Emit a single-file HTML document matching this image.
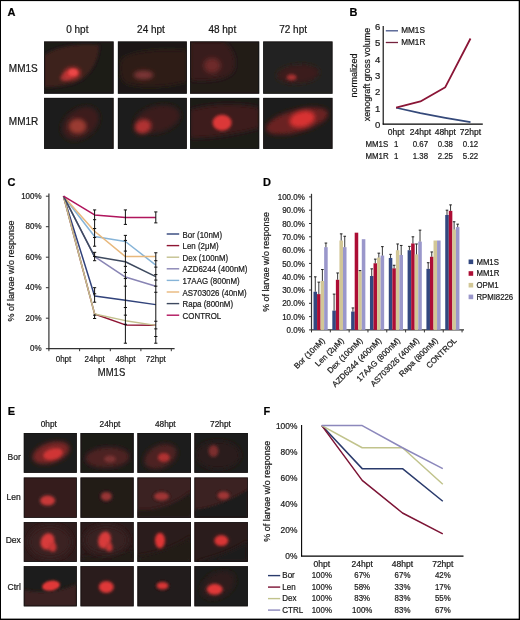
<!DOCTYPE html>
<html><head><meta charset="utf-8"><style>
html,body{margin:0;padding:0;background:#fff;}
svg{display:block;font-family:"Liberation Sans", sans-serif;}
text{stroke:#1a1a1a;stroke-width:0.22px;}
</style></head><body>
<svg width="520" height="620" viewBox="0 0 520 620">
<defs>
<filter id="g1_2" x="-50%" y="-50%" width="200%" height="200%"><feGaussianBlur stdDeviation="1.2"/></filter>
<filter id="g1_3" x="-50%" y="-50%" width="200%" height="200%"><feGaussianBlur stdDeviation="1.3"/></filter>
<filter id="g1_4" x="-50%" y="-50%" width="200%" height="200%"><feGaussianBlur stdDeviation="1.4"/></filter>
<filter id="g1_5" x="-50%" y="-50%" width="200%" height="200%"><feGaussianBlur stdDeviation="1.5"/></filter>
<filter id="g1_6" x="-50%" y="-50%" width="200%" height="200%"><feGaussianBlur stdDeviation="1.6"/></filter>
<filter id="g1_7" x="-50%" y="-50%" width="200%" height="200%"><feGaussianBlur stdDeviation="1.7"/></filter>
<filter id="g1_8" x="-50%" y="-50%" width="200%" height="200%"><feGaussianBlur stdDeviation="1.8"/></filter>
<filter id="g2_0" x="-50%" y="-50%" width="200%" height="200%"><feGaussianBlur stdDeviation="2.0"/></filter>
<filter id="g2_2" x="-50%" y="-50%" width="200%" height="200%"><feGaussianBlur stdDeviation="2.2"/></filter>
<filter id="g2_5" x="-50%" y="-50%" width="200%" height="200%"><feGaussianBlur stdDeviation="2.5"/></filter>
<filter id="g3_0" x="-50%" y="-50%" width="200%" height="200%"><feGaussianBlur stdDeviation="3"/></filter>
<filter id="soft" filterUnits="userSpaceOnUse" x="0" y="0" width="520" height="620"><feGaussianBlur stdDeviation="0.35"/></filter>
</defs>
<rect x="0" y="0" width="520" height="620" fill="#fff"/>
<g filter="url(#soft)">
<rect x="0" y="0" width="520" height="620" fill="#fff"/>
<text x="7.50" y="16.30" font-size="11" text-anchor="start" font-weight="bold" fill="#000" >A</text>
<text x="349.50" y="16.30" font-size="11" text-anchor="start" font-weight="bold" fill="#000" >B</text>
<text x="7.50" y="185.70" font-size="11" text-anchor="start" font-weight="bold" fill="#000" >C</text>
<text x="263.00" y="185.80" font-size="11" text-anchor="start" font-weight="bold" fill="#000" >D</text>
<text x="7.80" y="415.20" font-size="11" text-anchor="start" font-weight="bold" fill="#000" >E</text>
<text x="263.50" y="415.40" font-size="11" text-anchor="start" font-weight="bold" fill="#000" >F</text>
<text x="77.30" y="33.00" font-size="10" text-anchor="middle" font-weight="normal" fill="#1a1a1a" >0 hpt</text>
<text x="151.00" y="33.00" font-size="10" text-anchor="middle" font-weight="normal" fill="#1a1a1a" >24 hpt</text>
<text x="222.30" y="33.00" font-size="10" text-anchor="middle" font-weight="normal" fill="#1a1a1a" >48 hpt</text>
<text x="293.10" y="33.00" font-size="10" text-anchor="middle" font-weight="normal" fill="#1a1a1a" >72 hpt</text>
<text x="8.80" y="71.60" font-size="10" text-anchor="start" font-weight="normal" fill="#1a1a1a" >MM1S</text>
<text x="8.80" y="124.80" font-size="10" text-anchor="start" font-weight="normal" fill="#1a1a1a" >MM1R</text>
<line x1="383.20" y1="26.00" x2="383.20" y2="124.60" stroke="#000" stroke-width="1.1" />
<line x1="382.70" y1="124.10" x2="482.80" y2="124.10" stroke="#000" stroke-width="1.1" />
<text x="380.40" y="128.10" font-size="9.5" text-anchor="end" font-weight="normal" fill="#1a1a1a" >0</text>
<text x="380.40" y="111.70" font-size="9.5" text-anchor="end" font-weight="normal" fill="#1a1a1a" >1</text>
<text x="380.40" y="95.30" font-size="9.5" text-anchor="end" font-weight="normal" fill="#1a1a1a" >2</text>
<text x="380.40" y="78.90" font-size="9.5" text-anchor="end" font-weight="normal" fill="#1a1a1a" >3</text>
<text x="380.40" y="62.50" font-size="9.5" text-anchor="end" font-weight="normal" fill="#1a1a1a" >4</text>
<text x="380.40" y="46.10" font-size="9.5" text-anchor="end" font-weight="normal" fill="#1a1a1a" >5</text>
<text x="380.40" y="29.70" font-size="9.5" text-anchor="end" font-weight="normal" fill="#1a1a1a" >6</text>
<polyline points="396.10,107.70 420.40,113.11 445.30,117.87 470.50,122.13" fill="none" stroke="#34497a" stroke-width="1.6" stroke-linejoin="round" />
<polyline points="396.10,107.70 420.40,101.47 445.30,87.20 470.50,38.49" fill="none" stroke="#8a1436" stroke-width="1.8" stroke-linejoin="round" />
<line x1="385.80" y1="30.80" x2="398.00" y2="30.80" stroke="#44548a" stroke-width="1.3" />
<line x1="385.80" y1="42.50" x2="398.00" y2="42.50" stroke="#74203c" stroke-width="1.3" />
<text transform="translate(401.20,33.30) scale(0.9615,1)" font-size="8.53" text-anchor="start" font-weight="normal" fill="#1a1a1a" >MM1S</text>
<text transform="translate(401.20,45.00) scale(0.9615,1)" font-size="8.53" text-anchor="start" font-weight="normal" fill="#1a1a1a" >MM1R</text>
<text x="396.10" y="135.30" font-size="8.5" text-anchor="middle" font-weight="normal" fill="#1a1a1a" >0hpt</text>
<text x="420.40" y="135.30" font-size="8.5" text-anchor="middle" font-weight="normal" fill="#1a1a1a" >24hpt</text>
<text x="445.30" y="135.30" font-size="8.5" text-anchor="middle" font-weight="normal" fill="#1a1a1a" >48hpt</text>
<text x="470.50" y="135.30" font-size="8.5" text-anchor="middle" font-weight="normal" fill="#1a1a1a" >72hpt</text>
<text transform="translate(365.40,146.70) scale(0.8696,1)" font-size="9.08" text-anchor="start" font-weight="normal" fill="#1a1a1a" >MM1S</text>
<text transform="translate(396.10,146.70) scale(0.8696,1)" font-size="9.08" text-anchor="middle" font-weight="normal" fill="#1a1a1a" >1</text>
<text transform="translate(420.40,146.70) scale(0.8696,1)" font-size="9.08" text-anchor="middle" font-weight="normal" fill="#1a1a1a" >0.67</text>
<text transform="translate(445.30,146.70) scale(0.8696,1)" font-size="9.08" text-anchor="middle" font-weight="normal" fill="#1a1a1a" >0.38</text>
<text transform="translate(470.50,146.70) scale(0.8696,1)" font-size="9.08" text-anchor="middle" font-weight="normal" fill="#1a1a1a" >0.12</text>
<text transform="translate(365.40,158.50) scale(0.8696,1)" font-size="9.08" text-anchor="start" font-weight="normal" fill="#1a1a1a" >MM1R</text>
<text transform="translate(396.10,158.50) scale(0.8696,1)" font-size="9.08" text-anchor="middle" font-weight="normal" fill="#1a1a1a" >1</text>
<text transform="translate(420.40,158.50) scale(0.8696,1)" font-size="9.08" text-anchor="middle" font-weight="normal" fill="#1a1a1a" >1.38</text>
<text transform="translate(445.30,158.50) scale(0.8696,1)" font-size="9.08" text-anchor="middle" font-weight="normal" fill="#1a1a1a" >2.25</text>
<text transform="translate(470.50,158.50) scale(0.8696,1)" font-size="9.08" text-anchor="middle" font-weight="normal" fill="#1a1a1a" >5.22</text>
<text transform="translate(357.3,75.5) rotate(-90)" font-size="9" text-anchor="middle" fill="#1a1a1a">normalized</text>
<text transform="translate(369.7,74.5) rotate(-90)" font-size="9" text-anchor="middle" fill="#1a1a1a">xenograft gross volume</text>
<line x1="48.90" y1="193.50" x2="48.90" y2="349.20" stroke="#333" stroke-width="1.2" />
<line x1="48.40" y1="348.70" x2="174.60" y2="348.70" stroke="#333" stroke-width="1.2" />
<line x1="45.90" y1="348.70" x2="48.90" y2="348.70" stroke="#333" stroke-width="1" />
<text transform="translate(41.60,351.40) scale(0.8929,1)" font-size="8.96" text-anchor="end" font-weight="normal" fill="#1a1a1a" >0%</text>
<line x1="45.90" y1="318.20" x2="48.90" y2="318.20" stroke="#333" stroke-width="1" />
<text transform="translate(41.60,320.90) scale(0.8929,1)" font-size="8.96" text-anchor="end" font-weight="normal" fill="#1a1a1a" >20%</text>
<line x1="45.90" y1="287.70" x2="48.90" y2="287.70" stroke="#333" stroke-width="1" />
<text transform="translate(41.60,290.40) scale(0.8929,1)" font-size="8.96" text-anchor="end" font-weight="normal" fill="#1a1a1a" >40%</text>
<line x1="45.90" y1="257.20" x2="48.90" y2="257.20" stroke="#333" stroke-width="1" />
<text transform="translate(41.60,259.90) scale(0.8929,1)" font-size="8.96" text-anchor="end" font-weight="normal" fill="#1a1a1a" >60%</text>
<line x1="45.90" y1="226.70" x2="48.90" y2="226.70" stroke="#333" stroke-width="1" />
<text transform="translate(41.60,229.40) scale(0.8929,1)" font-size="8.96" text-anchor="end" font-weight="normal" fill="#1a1a1a" >80%</text>
<line x1="45.90" y1="196.20" x2="48.90" y2="196.20" stroke="#333" stroke-width="1" />
<text transform="translate(41.60,198.90) scale(0.8929,1)" font-size="8.96" text-anchor="end" font-weight="normal" fill="#1a1a1a" >100%</text>
<line x1="48.90" y1="348.70" x2="48.90" y2="351.20" stroke="#333" stroke-width="1" />
<line x1="79.60" y1="348.70" x2="79.60" y2="351.20" stroke="#333" stroke-width="1" />
<line x1="110.30" y1="348.70" x2="110.30" y2="351.20" stroke="#333" stroke-width="1" />
<line x1="140.90" y1="348.70" x2="140.90" y2="351.20" stroke="#333" stroke-width="1" />
<line x1="171.30" y1="348.70" x2="171.30" y2="351.20" stroke="#333" stroke-width="1" />
<text transform="translate(63.50,362.20) scale(0.8929,1)" font-size="8.96" text-anchor="middle" font-weight="normal" fill="#1a1a1a" >0hpt</text>
<text transform="translate(94.60,362.20) scale(0.8929,1)" font-size="8.96" text-anchor="middle" font-weight="normal" fill="#1a1a1a" >24hpt</text>
<text transform="translate(125.40,362.20) scale(0.8929,1)" font-size="8.96" text-anchor="middle" font-weight="normal" fill="#1a1a1a" >48hpt</text>
<text transform="translate(155.80,362.20) scale(0.8929,1)" font-size="8.96" text-anchor="middle" font-weight="normal" fill="#1a1a1a" >72hpt</text>
<text transform="translate(111.50,376.30) scale(0.8929,1)" font-size="10.64" text-anchor="middle" font-weight="normal" fill="#1a1a1a" >MM1S</text>
<text transform="translate(14.3,271.0) rotate(-90)" font-size="9" text-anchor="middle" fill="#1a1a1a">% of larvae w/o response</text>
<polyline points="63.50,196.20 94.60,295.94 125.40,300.20 155.80,304.63" fill="none" stroke="#30427a" stroke-width="1.5" stroke-linejoin="round" />
<polyline points="63.50,196.20 94.60,313.93 125.40,324.91 155.80,325.37" fill="none" stroke="#8e1232" stroke-width="1.5" stroke-linejoin="round" />
<polyline points="63.50,196.20 94.60,313.93 125.40,320.64 155.80,325.37" fill="none" stroke="#c3c08e" stroke-width="1.5" stroke-linejoin="round" />
<polyline points="63.50,196.20 94.60,256.59 125.40,277.02 155.80,286.18" fill="none" stroke="#8884b4" stroke-width="1.5" stroke-linejoin="round" />
<polyline points="63.50,196.20 94.60,236.46 125.40,241.49 155.80,265.13" fill="none" stroke="#86b4d8" stroke-width="1.5" stroke-linejoin="round" />
<polyline points="63.50,196.20 94.60,231.27 125.40,256.59 155.80,256.59" fill="none" stroke="#e8b87c" stroke-width="1.5" stroke-linejoin="round" />
<polyline points="63.50,196.20 94.60,256.59 125.40,261.77 155.80,276.57" fill="none" stroke="#3e4a5e" stroke-width="1.5" stroke-linejoin="round" />
<polyline points="63.50,196.20 94.60,214.96 125.40,217.40 155.80,217.40" fill="none" stroke="#b0125c" stroke-width="1.5" stroke-linejoin="round" />
<line x1="94.60" y1="209.92" x2="94.60" y2="246.22" stroke="#111" stroke-width="1" />
<line x1="94.60" y1="252.32" x2="94.60" y2="260.71" stroke="#111" stroke-width="1" />
<line x1="94.60" y1="287.70" x2="94.60" y2="302.19" stroke="#111" stroke-width="1" />
<line x1="94.60" y1="314.39" x2="94.60" y2="318.96" stroke="#111" stroke-width="1" />
<line x1="93.00" y1="209.92" x2="96.20" y2="209.92" stroke="#111" stroke-width="1" />
<line x1="93.00" y1="219.69" x2="96.20" y2="219.69" stroke="#111" stroke-width="1" />
<line x1="93.00" y1="228.53" x2="96.20" y2="228.53" stroke="#111" stroke-width="1" />
<line x1="93.00" y1="237.53" x2="96.20" y2="237.53" stroke="#111" stroke-width="1" />
<line x1="93.00" y1="246.22" x2="96.20" y2="246.22" stroke="#111" stroke-width="1" />
<line x1="93.00" y1="252.32" x2="96.20" y2="252.32" stroke="#111" stroke-width="1" />
<line x1="93.00" y1="256.44" x2="96.20" y2="256.44" stroke="#111" stroke-width="1" />
<line x1="93.00" y1="260.71" x2="96.20" y2="260.71" stroke="#111" stroke-width="1" />
<line x1="93.00" y1="287.70" x2="96.20" y2="287.70" stroke="#111" stroke-width="1" />
<line x1="93.00" y1="293.80" x2="96.20" y2="293.80" stroke="#111" stroke-width="1" />
<line x1="93.00" y1="302.19" x2="96.20" y2="302.19" stroke="#111" stroke-width="1" />
<line x1="93.00" y1="315.15" x2="96.20" y2="315.15" stroke="#111" stroke-width="1" />
<line x1="93.00" y1="318.50" x2="96.20" y2="318.50" stroke="#111" stroke-width="1" />
<line x1="125.40" y1="209.92" x2="125.40" y2="224.41" stroke="#111" stroke-width="1" />
<line x1="125.40" y1="235.39" x2="125.40" y2="343.21" stroke="#111" stroke-width="1" />
<line x1="123.80" y1="209.92" x2="127.00" y2="209.92" stroke="#111" stroke-width="1" />
<line x1="123.80" y1="224.41" x2="127.00" y2="224.41" stroke="#111" stroke-width="1" />
<line x1="123.80" y1="235.39" x2="127.00" y2="235.39" stroke="#111" stroke-width="1" />
<line x1="123.80" y1="240.43" x2="127.00" y2="240.43" stroke="#111" stroke-width="1" />
<line x1="123.80" y1="251.10" x2="127.00" y2="251.10" stroke="#111" stroke-width="1" />
<line x1="123.80" y1="266.35" x2="127.00" y2="266.35" stroke="#111" stroke-width="1" />
<line x1="123.80" y1="272.45" x2="127.00" y2="272.45" stroke="#111" stroke-width="1" />
<line x1="123.80" y1="278.55" x2="127.00" y2="278.55" stroke="#111" stroke-width="1" />
<line x1="123.80" y1="286.18" x2="127.00" y2="286.18" stroke="#111" stroke-width="1" />
<line x1="123.80" y1="307.52" x2="127.00" y2="307.52" stroke="#111" stroke-width="1" />
<line x1="123.80" y1="315.15" x2="127.00" y2="315.15" stroke="#111" stroke-width="1" />
<line x1="123.80" y1="324.30" x2="127.00" y2="324.30" stroke="#111" stroke-width="1" />
<line x1="123.80" y1="343.21" x2="127.00" y2="343.21" stroke="#111" stroke-width="1" />
<line x1="155.80" y1="211.91" x2="155.80" y2="222.89" stroke="#111" stroke-width="1" />
<line x1="155.80" y1="252.78" x2="155.80" y2="343.21" stroke="#111" stroke-width="1" />
<line x1="154.20" y1="211.91" x2="157.40" y2="211.91" stroke="#111" stroke-width="1" />
<line x1="154.20" y1="222.89" x2="157.40" y2="222.89" stroke="#111" stroke-width="1" />
<line x1="154.20" y1="252.78" x2="157.40" y2="252.78" stroke="#111" stroke-width="1" />
<line x1="154.20" y1="260.71" x2="157.40" y2="260.71" stroke="#111" stroke-width="1" />
<line x1="154.20" y1="267.11" x2="157.40" y2="267.11" stroke="#111" stroke-width="1" />
<line x1="154.20" y1="274.58" x2="157.40" y2="274.58" stroke="#111" stroke-width="1" />
<line x1="154.20" y1="280.07" x2="157.40" y2="280.07" stroke="#111" stroke-width="1" />
<line x1="154.20" y1="286.18" x2="157.40" y2="286.18" stroke="#111" stroke-width="1" />
<line x1="154.20" y1="292.27" x2="157.40" y2="292.27" stroke="#111" stroke-width="1" />
<line x1="154.20" y1="321.25" x2="157.40" y2="321.25" stroke="#111" stroke-width="1" />
<line x1="154.20" y1="328.88" x2="157.40" y2="328.88" stroke="#111" stroke-width="1" />
<line x1="154.20" y1="336.50" x2="157.40" y2="336.50" stroke="#111" stroke-width="1" />
<line x1="154.20" y1="343.21" x2="157.40" y2="343.21" stroke="#111" stroke-width="1" />
<line x1="166.70" y1="234.00" x2="179.20" y2="234.00" stroke="#30427a" stroke-width="1.4" />
<text transform="translate(182.60,237.50) scale(0.8929,1)" font-size="8.85" text-anchor="start" font-weight="normal" fill="#1a1a1a" >Bor (10nM)</text>
<line x1="166.70" y1="245.60" x2="179.20" y2="245.60" stroke="#8e1232" stroke-width="1.4" />
<text transform="translate(182.60,249.10) scale(0.8929,1)" font-size="8.85" text-anchor="start" font-weight="normal" fill="#1a1a1a" >Len (2&#956;M)</text>
<line x1="166.70" y1="257.20" x2="179.20" y2="257.20" stroke="#c3c08e" stroke-width="1.4" />
<text transform="translate(182.60,260.70) scale(0.8929,1)" font-size="8.85" text-anchor="start" font-weight="normal" fill="#1a1a1a" >Dex (100nM)</text>
<line x1="166.70" y1="268.80" x2="179.20" y2="268.80" stroke="#8884b4" stroke-width="1.4" />
<text transform="translate(182.60,272.30) scale(0.8929,1)" font-size="8.85" text-anchor="start" font-weight="normal" fill="#1a1a1a" >AZD6244 (400nM)</text>
<line x1="166.70" y1="280.40" x2="179.20" y2="280.40" stroke="#86b4d8" stroke-width="1.4" />
<text transform="translate(182.60,283.90) scale(0.8929,1)" font-size="8.85" text-anchor="start" font-weight="normal" fill="#1a1a1a" >17AAG (800nM)</text>
<line x1="166.70" y1="292.00" x2="179.20" y2="292.00" stroke="#e8b87c" stroke-width="1.4" />
<text transform="translate(182.60,295.50) scale(0.8929,1)" font-size="8.85" text-anchor="start" font-weight="normal" fill="#1a1a1a" >AS703026 (40nM)</text>
<line x1="166.70" y1="303.60" x2="179.20" y2="303.60" stroke="#3e4a5e" stroke-width="1.4" />
<text transform="translate(182.60,307.10) scale(0.8929,1)" font-size="8.85" text-anchor="start" font-weight="normal" fill="#1a1a1a" >Rapa (800nM)</text>
<line x1="166.70" y1="315.20" x2="179.20" y2="315.20" stroke="#b0125c" stroke-width="1.4" />
<text transform="translate(182.60,318.70) scale(0.8929,1)" font-size="8.85" text-anchor="start" font-weight="normal" fill="#1a1a1a" >CONTROL</text>
<line x1="311.50" y1="193.80" x2="311.50" y2="330.40" stroke="#333" stroke-width="1.2" />
<line x1="311.00" y1="329.90" x2="464.00" y2="329.90" stroke="#333" stroke-width="1.1" />
<line x1="309.00" y1="329.90" x2="311.50" y2="329.90" stroke="#333" stroke-width="1" />
<text transform="translate(304.80,333.00) scale(0.8929,1)" font-size="8.96" text-anchor="end" font-weight="normal" fill="#1a1a1a" >0.0%</text>
<line x1="309.00" y1="316.60" x2="311.50" y2="316.60" stroke="#333" stroke-width="1" />
<text transform="translate(304.80,319.70) scale(0.8929,1)" font-size="8.96" text-anchor="end" font-weight="normal" fill="#1a1a1a" >10.0%</text>
<line x1="309.00" y1="303.30" x2="311.50" y2="303.30" stroke="#333" stroke-width="1" />
<text transform="translate(304.80,306.40) scale(0.8929,1)" font-size="8.96" text-anchor="end" font-weight="normal" fill="#1a1a1a" >20.0%</text>
<line x1="309.00" y1="290.00" x2="311.50" y2="290.00" stroke="#333" stroke-width="1" />
<text transform="translate(304.80,293.10) scale(0.8929,1)" font-size="8.96" text-anchor="end" font-weight="normal" fill="#1a1a1a" >30.0%</text>
<line x1="309.00" y1="276.70" x2="311.50" y2="276.70" stroke="#333" stroke-width="1" />
<text transform="translate(304.80,279.80) scale(0.8929,1)" font-size="8.96" text-anchor="end" font-weight="normal" fill="#1a1a1a" >40.0%</text>
<line x1="309.00" y1="263.40" x2="311.50" y2="263.40" stroke="#333" stroke-width="1" />
<text transform="translate(304.80,266.50) scale(0.8929,1)" font-size="8.96" text-anchor="end" font-weight="normal" fill="#1a1a1a" >50.0%</text>
<line x1="309.00" y1="250.10" x2="311.50" y2="250.10" stroke="#333" stroke-width="1" />
<text transform="translate(304.80,253.20) scale(0.8929,1)" font-size="8.96" text-anchor="end" font-weight="normal" fill="#1a1a1a" >60.0%</text>
<line x1="309.00" y1="236.80" x2="311.50" y2="236.80" stroke="#333" stroke-width="1" />
<text transform="translate(304.80,239.90) scale(0.8929,1)" font-size="8.96" text-anchor="end" font-weight="normal" fill="#1a1a1a" >70.0%</text>
<line x1="309.00" y1="223.50" x2="311.50" y2="223.50" stroke="#333" stroke-width="1" />
<text transform="translate(304.80,226.60) scale(0.8929,1)" font-size="8.96" text-anchor="end" font-weight="normal" fill="#1a1a1a" >80.0%</text>
<line x1="309.00" y1="210.20" x2="311.50" y2="210.20" stroke="#333" stroke-width="1" />
<text transform="translate(304.80,213.30) scale(0.8929,1)" font-size="8.96" text-anchor="end" font-weight="normal" fill="#1a1a1a" >90.0%</text>
<line x1="309.00" y1="196.90" x2="311.50" y2="196.90" stroke="#333" stroke-width="1" />
<text transform="translate(304.80,200.00) scale(0.8929,1)" font-size="8.96" text-anchor="end" font-weight="normal" fill="#1a1a1a" >100.0%</text>
<line x1="311.50" y1="329.90" x2="311.50" y2="332.40" stroke="#333" stroke-width="1" />
<line x1="330.32" y1="329.90" x2="330.32" y2="332.40" stroke="#333" stroke-width="1" />
<line x1="349.14" y1="329.90" x2="349.14" y2="332.40" stroke="#333" stroke-width="1" />
<line x1="367.96" y1="329.90" x2="367.96" y2="332.40" stroke="#333" stroke-width="1" />
<line x1="386.78" y1="329.90" x2="386.78" y2="332.40" stroke="#333" stroke-width="1" />
<line x1="405.60" y1="329.90" x2="405.60" y2="332.40" stroke="#333" stroke-width="1" />
<line x1="424.42" y1="329.90" x2="424.42" y2="332.40" stroke="#333" stroke-width="1" />
<line x1="443.24" y1="329.90" x2="443.24" y2="332.40" stroke="#333" stroke-width="1" />
<line x1="462.06" y1="329.90" x2="462.06" y2="332.40" stroke="#333" stroke-width="1" />
<rect x="313.50" y="291.73" width="3.55" height="38.17" fill="#31477f" />
<rect x="317.05" y="294.12" width="3.55" height="35.78" fill="#ac1034" />
<rect x="320.60" y="280.96" width="3.55" height="48.94" fill="#d2c796" />
<rect x="324.15" y="247.17" width="3.55" height="82.73" fill="#9a97cb" />
<line x1="315.27" y1="276.83" x2="315.27" y2="291.73" stroke="#222" stroke-width="0.9" />
<line x1="313.97" y1="276.83" x2="316.57" y2="276.83" stroke="#222" stroke-width="1" />
<line x1="318.82" y1="282.15" x2="318.82" y2="294.12" stroke="#222" stroke-width="0.9" />
<line x1="317.52" y1="282.15" x2="320.12" y2="282.15" stroke="#222" stroke-width="1" />
<line x1="322.38" y1="269.52" x2="322.38" y2="280.96" stroke="#222" stroke-width="0.9" />
<line x1="321.07" y1="269.52" x2="323.68" y2="269.52" stroke="#222" stroke-width="1" />
<line x1="325.92" y1="243.05" x2="325.92" y2="247.17" stroke="#222" stroke-width="0.9" />
<line x1="324.62" y1="243.05" x2="327.22" y2="243.05" stroke="#222" stroke-width="1" />
<rect x="332.32" y="310.61" width="3.55" height="19.29" fill="#31477f" />
<rect x="335.87" y="279.76" width="3.55" height="50.14" fill="#ac1034" />
<rect x="339.42" y="240.52" width="3.55" height="89.38" fill="#d2c796" />
<rect x="342.97" y="247.17" width="3.55" height="82.73" fill="#9a97cb" />
<line x1="334.09" y1="294.12" x2="334.09" y2="310.61" stroke="#222" stroke-width="0.9" />
<line x1="332.79" y1="294.12" x2="335.39" y2="294.12" stroke="#222" stroke-width="1" />
<line x1="337.64" y1="272.98" x2="337.64" y2="279.76" stroke="#222" stroke-width="0.9" />
<line x1="336.34" y1="272.98" x2="338.94" y2="272.98" stroke="#222" stroke-width="1" />
<line x1="341.19" y1="233.87" x2="341.19" y2="240.52" stroke="#222" stroke-width="0.9" />
<line x1="339.89" y1="233.87" x2="342.50" y2="233.87" stroke="#222" stroke-width="1" />
<line x1="344.74" y1="236.27" x2="344.74" y2="247.17" stroke="#222" stroke-width="0.9" />
<line x1="343.44" y1="236.27" x2="346.04" y2="236.27" stroke="#222" stroke-width="1" />
<rect x="351.14" y="311.55" width="3.55" height="18.35" fill="#31477f" />
<rect x="354.69" y="232.68" width="3.55" height="97.22" fill="#ac1034" />
<rect x="358.24" y="271.25" width="3.55" height="58.65" fill="#d2c796" />
<rect x="361.79" y="239.19" width="3.55" height="90.71" fill="#9a97cb" />
<line x1="352.91" y1="307.95" x2="352.91" y2="311.55" stroke="#222" stroke-width="0.9" />
<line x1="351.61" y1="307.95" x2="354.21" y2="307.95" stroke="#222" stroke-width="1" />
<line x1="360.01" y1="270.58" x2="360.01" y2="271.25" stroke="#222" stroke-width="0.9" />
<line x1="358.71" y1="270.58" x2="361.31" y2="270.58" stroke="#222" stroke-width="1" />
<rect x="369.96" y="276.03" width="3.55" height="53.87" fill="#31477f" />
<rect x="373.51" y="263.27" width="3.55" height="66.63" fill="#ac1034" />
<rect x="377.06" y="257.55" width="3.55" height="72.35" fill="#d2c796" />
<rect x="380.61" y="255.55" width="3.55" height="74.35" fill="#9a97cb" />
<line x1="371.73" y1="268.85" x2="371.73" y2="276.03" stroke="#222" stroke-width="0.9" />
<line x1="370.43" y1="268.85" x2="373.03" y2="268.85" stroke="#222" stroke-width="1" />
<line x1="375.28" y1="259.14" x2="375.28" y2="263.27" stroke="#222" stroke-width="0.9" />
<line x1="373.98" y1="259.14" x2="376.58" y2="259.14" stroke="#222" stroke-width="1" />
<line x1="378.83" y1="253.16" x2="378.83" y2="257.55" stroke="#222" stroke-width="0.9" />
<line x1="377.53" y1="253.16" x2="380.13" y2="253.16" stroke="#222" stroke-width="1" />
<line x1="382.38" y1="246.64" x2="382.38" y2="255.55" stroke="#222" stroke-width="0.9" />
<line x1="381.08" y1="246.64" x2="383.68" y2="246.64" stroke="#222" stroke-width="1" />
<rect x="388.78" y="257.95" width="3.55" height="71.95" fill="#31477f" />
<rect x="392.33" y="268.32" width="3.55" height="61.58" fill="#ac1034" />
<rect x="395.88" y="250.23" width="3.55" height="79.67" fill="#d2c796" />
<rect x="399.43" y="255.02" width="3.55" height="74.88" fill="#9a97cb" />
<line x1="390.55" y1="254.36" x2="390.55" y2="257.95" stroke="#222" stroke-width="0.9" />
<line x1="389.25" y1="254.36" x2="391.85" y2="254.36" stroke="#222" stroke-width="1" />
<line x1="394.10" y1="265.26" x2="394.10" y2="268.32" stroke="#222" stroke-width="0.9" />
<line x1="392.80" y1="265.26" x2="395.40" y2="265.26" stroke="#222" stroke-width="1" />
<line x1="397.65" y1="243.98" x2="397.65" y2="250.23" stroke="#222" stroke-width="0.9" />
<line x1="396.35" y1="243.98" x2="398.95" y2="243.98" stroke="#222" stroke-width="1" />
<line x1="401.20" y1="245.44" x2="401.20" y2="255.02" stroke="#222" stroke-width="0.9" />
<line x1="399.90" y1="245.44" x2="402.50" y2="245.44" stroke="#222" stroke-width="1" />
<rect x="407.60" y="250.23" width="3.55" height="79.67" fill="#31477f" />
<rect x="411.15" y="243.45" width="3.55" height="86.45" fill="#ac1034" />
<rect x="414.70" y="254.36" width="3.55" height="75.54" fill="#d2c796" />
<rect x="418.25" y="241.59" width="3.55" height="88.31" fill="#9a97cb" />
<line x1="409.38" y1="246.38" x2="409.38" y2="250.23" stroke="#222" stroke-width="0.9" />
<line x1="408.07" y1="246.38" x2="410.68" y2="246.38" stroke="#222" stroke-width="1" />
<line x1="412.93" y1="236.80" x2="412.93" y2="243.45" stroke="#222" stroke-width="0.9" />
<line x1="411.62" y1="236.80" x2="414.23" y2="236.80" stroke="#222" stroke-width="1" />
<line x1="416.48" y1="243.98" x2="416.48" y2="254.36" stroke="#222" stroke-width="0.9" />
<line x1="415.18" y1="243.98" x2="417.78" y2="243.98" stroke="#222" stroke-width="1" />
<line x1="420.02" y1="230.15" x2="420.02" y2="241.59" stroke="#222" stroke-width="0.9" />
<line x1="418.72" y1="230.15" x2="421.32" y2="230.15" stroke="#222" stroke-width="1" />
<rect x="426.42" y="268.85" width="3.55" height="61.05" fill="#31477f" />
<rect x="429.97" y="256.75" width="3.55" height="73.15" fill="#ac1034" />
<rect x="433.52" y="240.52" width="3.55" height="89.38" fill="#d2c796" />
<rect x="437.07" y="240.52" width="3.55" height="89.38" fill="#9a97cb" />
<line x1="428.19" y1="262.73" x2="428.19" y2="268.85" stroke="#222" stroke-width="0.9" />
<line x1="426.89" y1="262.73" x2="429.50" y2="262.73" stroke="#222" stroke-width="1" />
<line x1="431.75" y1="251.96" x2="431.75" y2="256.75" stroke="#222" stroke-width="0.9" />
<line x1="430.44" y1="251.96" x2="433.05" y2="251.96" stroke="#222" stroke-width="1" />
<rect x="445.24" y="214.99" width="3.55" height="114.91" fill="#31477f" />
<rect x="448.79" y="210.86" width="3.55" height="119.04" fill="#ac1034" />
<rect x="452.34" y="229.48" width="3.55" height="100.42" fill="#d2c796" />
<rect x="455.89" y="227.09" width="3.55" height="102.81" fill="#9a97cb" />
<line x1="447.01" y1="210.20" x2="447.01" y2="214.99" stroke="#222" stroke-width="0.9" />
<line x1="445.71" y1="210.20" x2="448.31" y2="210.20" stroke="#222" stroke-width="1" />
<line x1="450.56" y1="204.88" x2="450.56" y2="210.86" stroke="#222" stroke-width="0.9" />
<line x1="449.26" y1="204.88" x2="451.87" y2="204.88" stroke="#222" stroke-width="1" />
<line x1="454.12" y1="221.77" x2="454.12" y2="229.48" stroke="#222" stroke-width="0.9" />
<line x1="452.81" y1="221.77" x2="455.42" y2="221.77" stroke="#222" stroke-width="1" />
<line x1="457.66" y1="224.16" x2="457.66" y2="227.09" stroke="#222" stroke-width="0.9" />
<line x1="456.36" y1="224.16" x2="458.96" y2="224.16" stroke="#222" stroke-width="1" />
<text transform="translate(321.91,337.50) rotate(-45)" font-size="8" text-anchor="end" fill="#1a1a1a" dy="5">Bor (10nM)</text>
<text transform="translate(340.73,337.50) rotate(-45)" font-size="8" text-anchor="end" fill="#1a1a1a" dy="5">Len (2&#956;M)</text>
<text transform="translate(359.55,337.50) rotate(-45)" font-size="8" text-anchor="end" fill="#1a1a1a" dy="5">Dex (100nM)</text>
<text transform="translate(378.37,337.50) rotate(-45)" font-size="8" text-anchor="end" fill="#1a1a1a" dy="5">AZD6244 (400nM)</text>
<text transform="translate(397.19,337.50) rotate(-45)" font-size="8" text-anchor="end" fill="#1a1a1a" dy="5">17AAG (800nM)</text>
<text transform="translate(416.01,337.50) rotate(-45)" font-size="8" text-anchor="end" fill="#1a1a1a" dy="5">AS703026 (40nM)</text>
<text transform="translate(434.83,337.50) rotate(-45)" font-size="8" text-anchor="end" fill="#1a1a1a" dy="5">Rapa (800nM)</text>
<text transform="translate(453.65,337.50) rotate(-45)" font-size="8" text-anchor="end" fill="#1a1a1a" dy="5">CONTROL</text>
<rect x="468.60" y="259.50" width="4.60" height="4.60" fill="#31477f" />
<text transform="translate(476.40,264.70) scale(0.8929,1)" font-size="8.74" text-anchor="start" font-weight="normal" fill="#1a1a1a" >MM1S</text>
<rect x="468.60" y="271.20" width="4.60" height="4.60" fill="#ac1034" />
<text transform="translate(476.40,276.40) scale(0.8929,1)" font-size="8.74" text-anchor="start" font-weight="normal" fill="#1a1a1a" >MM1R</text>
<rect x="468.60" y="282.90" width="4.60" height="4.60" fill="#d2c796" />
<text transform="translate(476.40,288.10) scale(0.8929,1)" font-size="8.74" text-anchor="start" font-weight="normal" fill="#1a1a1a" >OPM1</text>
<rect x="468.60" y="294.60" width="4.60" height="4.60" fill="#9a97cb" />
<text transform="translate(476.40,299.80) scale(0.8929,1)" font-size="8.74" text-anchor="start" font-weight="normal" fill="#1a1a1a" >RPMI8226</text>
<text transform="translate(268.8,262.0) rotate(-90)" font-size="8.9" text-anchor="middle" fill="#1a1a1a">% of larvae w/o response</text>
<text x="48.80" y="427.20" font-size="8.3" text-anchor="middle" font-weight="normal" fill="#1a1a1a" >0hpt</text>
<text x="110.00" y="427.20" font-size="8.3" text-anchor="middle" font-weight="normal" fill="#1a1a1a" >24hpt</text>
<text x="165.30" y="427.20" font-size="8.3" text-anchor="middle" font-weight="normal" fill="#1a1a1a" >48hpt</text>
<text x="220.50" y="427.20" font-size="8.3" text-anchor="middle" font-weight="normal" fill="#1a1a1a" >72hpt</text>
<text x="20.80" y="459.50" font-size="8.5" text-anchor="end" font-weight="normal" fill="#1a1a1a" >Bor</text>
<text x="20.80" y="499.70" font-size="8.5" text-anchor="end" font-weight="normal" fill="#1a1a1a" >Len</text>
<text x="20.80" y="543.40" font-size="8.5" text-anchor="end" font-weight="normal" fill="#1a1a1a" >Dex</text>
<text x="20.80" y="589.70" font-size="8.5" text-anchor="end" font-weight="normal" fill="#1a1a1a" >Ctrl</text>
<line x1="301.60" y1="425.00" x2="301.60" y2="556.50" stroke="#000" stroke-width="1.1" />
<line x1="301.10" y1="556.20" x2="463.50" y2="556.20" stroke="#000" stroke-width="1.2" />
<text transform="translate(297.40,558.90) scale(0.9375,1)" font-size="8.96" text-anchor="end" font-weight="normal" fill="#1a1a1a" >0%</text>
<text transform="translate(297.40,532.82) scale(0.9375,1)" font-size="8.96" text-anchor="end" font-weight="normal" fill="#1a1a1a" >20%</text>
<text transform="translate(297.40,506.74) scale(0.9375,1)" font-size="8.96" text-anchor="end" font-weight="normal" fill="#1a1a1a" >40%</text>
<text transform="translate(297.40,480.66) scale(0.9375,1)" font-size="8.96" text-anchor="end" font-weight="normal" fill="#1a1a1a" >60%</text>
<text transform="translate(297.40,454.58) scale(0.9375,1)" font-size="8.96" text-anchor="end" font-weight="normal" fill="#1a1a1a" >80%</text>
<text transform="translate(297.40,428.50) scale(0.9375,1)" font-size="8.96" text-anchor="end" font-weight="normal" fill="#1a1a1a" >100%</text>
<polyline points="321.80,425.60 362.20,468.63 402.50,468.63 442.80,501.23" fill="none" stroke="#2a3a6c" stroke-width="1.5" stroke-linejoin="round" />
<polyline points="321.80,425.60 362.20,480.37 402.50,512.97 442.80,533.83" fill="none" stroke="#7c1234" stroke-width="1.5" stroke-linejoin="round" />
<polyline points="321.80,425.60 362.20,447.77 402.50,447.77 442.80,484.28" fill="none" stroke="#c1c38c" stroke-width="1.5" stroke-linejoin="round" />
<polyline points="321.80,425.60 362.20,425.60 402.50,447.77 442.80,468.63" fill="none" stroke="#8c88bc" stroke-width="1.5" stroke-linejoin="round" />
<text x="321.80" y="566.50" font-size="8.5" text-anchor="middle" font-weight="normal" fill="#1a1a1a" >0hpt</text>
<text x="362.20" y="566.50" font-size="8.5" text-anchor="middle" font-weight="normal" fill="#1a1a1a" >24hpt</text>
<text x="402.50" y="566.50" font-size="8.5" text-anchor="middle" font-weight="normal" fill="#1a1a1a" >48hpt</text>
<text x="442.80" y="566.50" font-size="8.5" text-anchor="middle" font-weight="normal" fill="#1a1a1a" >72hpt</text>
<line x1="268.00" y1="575.60" x2="280.20" y2="575.60" stroke="#2a3a6c" stroke-width="1.4" />
<text transform="translate(282.30,578.30) scale(0.8929,1)" font-size="8.96" text-anchor="start" font-weight="normal" fill="#1a1a1a" >Bor</text>
<text transform="translate(321.80,578.30) scale(0.8929,1)" font-size="8.85" text-anchor="middle" font-weight="normal" fill="#1a1a1a" >100%</text>
<text transform="translate(362.20,578.30) scale(0.8929,1)" font-size="8.85" text-anchor="middle" font-weight="normal" fill="#1a1a1a" >67%</text>
<text transform="translate(402.50,578.30) scale(0.8929,1)" font-size="8.85" text-anchor="middle" font-weight="normal" fill="#1a1a1a" >67%</text>
<text transform="translate(442.80,578.30) scale(0.8929,1)" font-size="8.85" text-anchor="middle" font-weight="normal" fill="#1a1a1a" >42%</text>
<line x1="268.00" y1="587.10" x2="280.20" y2="587.10" stroke="#7c1234" stroke-width="1.4" />
<text transform="translate(282.30,589.80) scale(0.8929,1)" font-size="8.96" text-anchor="start" font-weight="normal" fill="#1a1a1a" >Len</text>
<text transform="translate(321.80,589.80) scale(0.8929,1)" font-size="8.85" text-anchor="middle" font-weight="normal" fill="#1a1a1a" >100%</text>
<text transform="translate(362.20,589.80) scale(0.8929,1)" font-size="8.85" text-anchor="middle" font-weight="normal" fill="#1a1a1a" >58%</text>
<text transform="translate(402.50,589.80) scale(0.8929,1)" font-size="8.85" text-anchor="middle" font-weight="normal" fill="#1a1a1a" >33%</text>
<text transform="translate(442.80,589.80) scale(0.8929,1)" font-size="8.85" text-anchor="middle" font-weight="normal" fill="#1a1a1a" >17%</text>
<line x1="268.00" y1="598.60" x2="280.20" y2="598.60" stroke="#c1c38c" stroke-width="1.4" />
<text transform="translate(282.30,601.30) scale(0.8929,1)" font-size="8.96" text-anchor="start" font-weight="normal" fill="#1a1a1a" >Dex</text>
<text transform="translate(321.80,601.30) scale(0.8929,1)" font-size="8.85" text-anchor="middle" font-weight="normal" fill="#1a1a1a" >100%</text>
<text transform="translate(362.20,601.30) scale(0.8929,1)" font-size="8.85" text-anchor="middle" font-weight="normal" fill="#1a1a1a" >83%</text>
<text transform="translate(402.50,601.30) scale(0.8929,1)" font-size="8.85" text-anchor="middle" font-weight="normal" fill="#1a1a1a" >83%</text>
<text transform="translate(442.80,601.30) scale(0.8929,1)" font-size="8.85" text-anchor="middle" font-weight="normal" fill="#1a1a1a" >55%</text>
<line x1="268.00" y1="610.10" x2="280.20" y2="610.10" stroke="#8c88bc" stroke-width="1.4" />
<text transform="translate(282.30,612.80) scale(0.8929,1)" font-size="8.96" text-anchor="start" font-weight="normal" fill="#1a1a1a" >CTRL</text>
<text transform="translate(321.80,612.80) scale(0.8929,1)" font-size="8.85" text-anchor="middle" font-weight="normal" fill="#1a1a1a" >100%</text>
<text transform="translate(362.20,612.80) scale(0.8929,1)" font-size="8.85" text-anchor="middle" font-weight="normal" fill="#1a1a1a" >100%</text>
<text transform="translate(402.50,612.80) scale(0.8929,1)" font-size="8.85" text-anchor="middle" font-weight="normal" fill="#1a1a1a" >83%</text>
<text transform="translate(442.80,612.80) scale(0.8929,1)" font-size="8.85" text-anchor="middle" font-weight="normal" fill="#1a1a1a" >67%</text>
<text transform="translate(270.4,491.2) rotate(-90)" font-size="9" text-anchor="middle" fill="#1a1a1a">% of larvae w/o response</text>
<clipPath id="cA1"><rect x="44.10" y="41.50" width="69.50" height="52.20"/></clipPath>
<rect x="44.10" y="41.50" width="69.50" height="52.20" fill="#1d1a18"/>
<g clip-path="url(#cA1)">
<path d="M44,56 C55,47 75,43 99,45 C99,59 92,72 81,80 C69,86 55,87 44,87 Z" fill="#3e201e" opacity="1" filter="url(#g1_5)"/>
<ellipse cx="66" cy="77" rx="6" ry="4" transform="rotate(-20 66 77)" fill="#9a3030" opacity="1" filter="url(#g1_8)"/>
<ellipse cx="72" cy="73.5" rx="8.5" ry="6" transform="rotate(-10 72 73.5)" fill="#c83434" opacity="1" filter="url(#g2_0)"/>
<ellipse cx="73" cy="72.5" rx="4.5" ry="3.5" transform="rotate(0 73 72.5)" fill="#f04848" opacity="0.9" filter="url(#g1_3)"/>
</g>
<rect x="44.50" y="41.90" width="68.70" height="51.40" fill="none" stroke="#121010" stroke-width="0.8" opacity="0.8"/>
<clipPath id="cA2"><rect x="117.90" y="41.50" width="68.90" height="52.20"/></clipPath>
<rect x="117.90" y="41.50" width="68.90" height="52.20" fill="#1c1917"/>
<g clip-path="url(#cA2)">
<path d="M122,58 C135,50 160,48 187,50 L187,82 C170,87 140,90 124,83 C119,76 118,65 122,58 Z" fill="#2e1a19" opacity="1" filter="url(#g2_0)"/>
<ellipse cx="143.5" cy="75" rx="10" ry="4.5" transform="rotate(0 143.5 75)" fill="#7a3434" opacity="1" filter="url(#g2_2)"/>
</g>
<rect x="118.30" y="41.90" width="68.10" height="51.40" fill="none" stroke="#121010" stroke-width="0.8" opacity="0.8"/>
<clipPath id="cA3"><rect x="190.10" y="41.50" width="69.10" height="52.20"/></clipPath>
<rect x="190.10" y="41.50" width="69.10" height="52.20" fill="#221b18"/>
<g clip-path="url(#cA3)">
<path d="M190.1,41.5 L224,41.5 C234,50 238,62 233,72 C226,80 206,82 190.1,80 Z" fill="#381c1b" opacity="1" filter="url(#g2_2)"/>
<ellipse cx="212.2" cy="65.6" rx="8.5" ry="7.5" transform="rotate(0 212.2 65.6)" fill="#6e2c2c" opacity="1" filter="url(#g2_5)"/>
</g>
<rect x="190.50" y="41.90" width="68.30" height="51.40" fill="none" stroke="#121010" stroke-width="0.8" opacity="0.8"/>
<clipPath id="cA4"><rect x="263.20" y="41.50" width="69.30" height="52.20"/></clipPath>
<rect x="263.20" y="41.50" width="69.30" height="52.20" fill="#242321"/>
<g clip-path="url(#cA4)">
<ellipse cx="298" cy="74.1" rx="21" ry="9" transform="rotate(-5 298 74.1)" fill="#3a1b1b" opacity="1" filter="url(#g2_0)"/>
<ellipse cx="291.6" cy="77.3" rx="5" ry="3" transform="rotate(0 291.6 77.3)" fill="#a83232" opacity="1" filter="url(#g1_5)"/>
</g>
<rect x="263.60" y="41.90" width="68.50" height="51.40" fill="none" stroke="#121010" stroke-width="0.8" opacity="0.8"/>
<clipPath id="cA5"><rect x="44.10" y="97.90" width="69.50" height="51.00"/></clipPath>
<rect x="44.10" y="97.90" width="69.50" height="51.00" fill="#1e1c1a"/>
<g clip-path="url(#cA5)">
<ellipse cx="80.4" cy="123.4" rx="20" ry="14" transform="rotate(-35 80.4 123.4)" fill="#3c1f1d" opacity="1" filter="url(#g2_0)"/>
<ellipse cx="77.6" cy="126.3" rx="9" ry="7.5" transform="rotate(0 77.6 126.3)" fill="#9a3a30" opacity="1" filter="url(#g2_2)"/>
</g>
<rect x="44.50" y="98.30" width="68.70" height="50.20" fill="none" stroke="#121010" stroke-width="0.8" opacity="0.8"/>
<clipPath id="cA6"><rect x="117.90" y="97.90" width="68.90" height="51.00"/></clipPath>
<rect x="117.90" y="97.90" width="68.90" height="51.00" fill="#1e1c1a"/>
<g clip-path="url(#cA6)">
<ellipse cx="157.3" cy="119.2" rx="23" ry="13" transform="rotate(-15 157.3 119.2)" fill="#3a1c1c" opacity="1" filter="url(#g2_0)"/>
<ellipse cx="143" cy="126.5" rx="8.5" ry="7" transform="rotate(-20 143 126.5)" fill="#b03232" opacity="1" filter="url(#g2_2)"/>
</g>
<rect x="118.30" y="98.30" width="68.10" height="50.20" fill="none" stroke="#121010" stroke-width="0.8" opacity="0.8"/>
<clipPath id="cA7"><rect x="190.10" y="97.90" width="69.10" height="51.00"/></clipPath>
<rect x="190.10" y="97.90" width="69.10" height="51.00" fill="#1e1b19"/>
<g clip-path="url(#cA7)">
<path d="M190,110 C210,104 240,103 259.2,108 L259.2,128 C240,133 215,138 190,138 Z" fill="#3e1e1c" opacity="1" filter="url(#g2_0)"/>
<ellipse cx="222.1" cy="122.7" rx="9.5" ry="8" transform="rotate(0 222.1 122.7)" fill="#dc3838" opacity="1" filter="url(#g1_8)"/>
</g>
<rect x="190.50" y="98.30" width="68.30" height="50.20" fill="none" stroke="#121010" stroke-width="0.8" opacity="0.8"/>
<clipPath id="cA8"><rect x="263.20" y="97.90" width="69.30" height="51.00"/></clipPath>
<rect x="263.20" y="97.90" width="69.30" height="51.00" fill="#1e1c1a"/>
<g clip-path="url(#cA8)">
<ellipse cx="297" cy="121" rx="32" ry="11" transform="rotate(-15 297 121)" fill="#6a2020" opacity="1" filter="url(#g2_0)"/>
<ellipse cx="302.3" cy="119.2" rx="13" ry="8" transform="rotate(-15 302.3 119.2)" fill="#d83030" opacity="1" filter="url(#g2_0)"/>
</g>
<rect x="263.60" y="98.30" width="68.50" height="50.20" fill="none" stroke="#121010" stroke-width="0.8" opacity="0.8"/>
<clipPath id="cE1"><rect x="23.80" y="433.00" width="53.00" height="39.80"/></clipPath>
<rect x="23.80" y="433.00" width="53.00" height="39.80" fill="#1e1c1a"/>
<g clip-path="url(#cE1)">
<ellipse cx="51" cy="452.8" rx="19" ry="10" transform="rotate(-18 51 452.8)" fill="#7a2828" opacity="1" filter="url(#g2_2)"/>
<ellipse cx="53" cy="454" rx="10" ry="5.5" transform="rotate(-15 53 454)" fill="#d03636" opacity="1" filter="url(#g1_8)"/>
</g>
<rect x="24.20" y="433.40" width="52.20" height="39.00" fill="none" stroke="#121010" stroke-width="0.8" opacity="0.8"/>
<clipPath id="cE2"><rect x="80.50" y="433.00" width="53.20" height="39.80"/></clipPath>
<rect x="80.50" y="433.00" width="53.20" height="39.80" fill="#1e1b19"/>
<g clip-path="url(#cE2)">
<ellipse cx="107.4" cy="457.6" rx="22" ry="10" transform="rotate(-3 107.4 457.6)" fill="#4e2424" opacity="1" filter="url(#g2_2)"/>
<ellipse cx="110" cy="459" rx="6" ry="3.5" transform="rotate(0 110 459)" fill="#7a3232" opacity="1" filter="url(#g1_5)"/>
</g>
<rect x="80.90" y="433.40" width="52.40" height="39.00" fill="none" stroke="#121010" stroke-width="0.8" opacity="0.8"/>
<clipPath id="cE3"><rect x="137.40" y="433.00" width="53.60" height="39.80"/></clipPath>
<rect x="137.40" y="433.00" width="53.60" height="39.80" fill="#1e1c1a"/>
<g clip-path="url(#cE3)">
<ellipse cx="160.5" cy="456.5" rx="17" ry="11" transform="rotate(-25 160.5 456.5)" fill="#4e2222" opacity="1" filter="url(#g2_2)"/>
<ellipse cx="163.8" cy="457.4" rx="6" ry="4.5" transform="rotate(0 163.8 457.4)" fill="#b03030" opacity="1" filter="url(#g1_6)"/>
</g>
<rect x="137.80" y="433.40" width="52.80" height="39.00" fill="none" stroke="#121010" stroke-width="0.8" opacity="0.8"/>
<clipPath id="cE4"><rect x="194.40" y="433.00" width="53.50" height="39.80"/></clipPath>
<rect x="194.40" y="433.00" width="53.50" height="39.80" fill="#1e1c1a"/>
<g clip-path="url(#cE4)">
<ellipse cx="218" cy="455" rx="22" ry="14" transform="rotate(0 218 455)" fill="#2c1a1a" opacity="1" filter="url(#g2_0)"/>
<ellipse cx="213.5" cy="451" rx="5" ry="6" transform="rotate(0 213.5 451)" fill="#7a2e2e" opacity="1" filter="url(#g1_8)"/>
</g>
<rect x="194.80" y="433.40" width="52.70" height="39.00" fill="none" stroke="#121010" stroke-width="0.8" opacity="0.8"/>
<clipPath id="cE5"><rect x="23.80" y="477.50" width="53.00" height="40.30"/></clipPath>
<rect x="23.80" y="477.50" width="53.00" height="40.30" fill="#351e1e"/>
<g clip-path="url(#cE5)">
<ellipse cx="47.6" cy="500.6" rx="7.5" ry="5" transform="rotate(0 47.6 500.6)" fill="#c83838" opacity="1" filter="url(#g1_8)"/>
</g>
<rect x="24.20" y="477.90" width="52.20" height="39.50" fill="none" stroke="#121010" stroke-width="0.8" opacity="0.8"/>
<clipPath id="cE6"><rect x="80.50" y="477.50" width="53.20" height="40.30"/></clipPath>
<rect x="80.50" y="477.50" width="53.20" height="40.30" fill="#241a19"/>
<g clip-path="url(#cE6)">
<ellipse cx="106.3" cy="496.4" rx="5.5" ry="4.5" transform="rotate(0 106.3 496.4)" fill="#983636" opacity="1" filter="url(#g1_6)"/>
</g>
<rect x="80.90" y="477.90" width="52.40" height="39.50" fill="none" stroke="#121010" stroke-width="0.8" opacity="0.8"/>
<clipPath id="cE7"><rect x="137.40" y="477.50" width="53.60" height="40.30"/></clipPath>
<rect x="137.40" y="477.50" width="53.60" height="40.30" fill="#3a2020"/>
<g clip-path="url(#cE7)">
<path d="M137.4,510 C155,512 175,505 191,492 L191,517.8 L137.4,517.8 Z" fill="#231a19" opacity="1" filter="url(#g1_5)"/>
<ellipse cx="161.5" cy="496.4" rx="7.5" ry="4.2" transform="rotate(0 161.5 496.4)" fill="#a03434" opacity="1" filter="url(#g1_6)"/>
</g>
<rect x="137.80" y="477.90" width="52.80" height="39.50" fill="none" stroke="#121010" stroke-width="0.8" opacity="0.8"/>
<clipPath id="cE8"><rect x="194.40" y="477.50" width="53.50" height="40.30"/></clipPath>
<rect x="194.40" y="477.50" width="53.50" height="40.30" fill="#3a2020"/>
<g clip-path="url(#cE8)">
<path d="M194.4,510 C215,508 235,498 248,490 L248,517.8 L194.4,517.8 Z" fill="#1e1e1c" opacity="1" filter="url(#g1_2)"/>
<ellipse cx="223.5" cy="495.5" rx="6" ry="4" transform="rotate(0 223.5 495.5)" fill="#a03434" opacity="1" filter="url(#g1_6)"/>
</g>
<rect x="194.80" y="477.90" width="52.70" height="39.50" fill="none" stroke="#121010" stroke-width="0.8" opacity="0.8"/>
<clipPath id="cE9"><rect x="23.80" y="522.10" width="53.00" height="39.80"/></clipPath>
<rect x="23.80" y="522.10" width="53.00" height="39.80" fill="#2e1c1c"/>
<g clip-path="url(#cE9)">
<ellipse cx="50" cy="542" rx="22" ry="17" transform="rotate(0 50 542)" fill="#3a2020" opacity="1" filter="url(#g3_0)"/>
<ellipse cx="47.5" cy="541.5" rx="6.8" ry="8.5" transform="rotate(20 47.5 541.5)" fill="#d83a3a" opacity="1" filter="url(#g1_7)"/>
<ellipse cx="52.5" cy="547" rx="4" ry="5" transform="rotate(-10 52.5 547)" fill="#c83636" opacity="1" filter="url(#g1_6)"/>
</g>
<rect x="24.20" y="522.50" width="52.20" height="39.00" fill="none" stroke="#121010" stroke-width="0.8" opacity="0.8"/>
<clipPath id="cE10"><rect x="80.50" y="522.10" width="53.20" height="39.80"/></clipPath>
<rect x="80.50" y="522.10" width="53.20" height="39.80" fill="#2c1c1c"/>
<g clip-path="url(#cE10)">
<path d="M80.5,556 C100,560 120,556 133.7,548 L133.7,561.9 L80.5,561.9 Z" fill="#221a19" opacity="1" filter="url(#g2_0)"/>
<ellipse cx="106" cy="540" rx="22" ry="15" transform="rotate(0 106 540)" fill="#382020" opacity="1" filter="url(#g3_0)"/>
<ellipse cx="104.5" cy="540" rx="6.2" ry="8.8" transform="rotate(15 104.5 540)" fill="#d83a3a" opacity="1" filter="url(#g1_7)"/>
<ellipse cx="109" cy="547" rx="3.5" ry="4.5" transform="rotate(-10 109 547)" fill="#c83636" opacity="1" filter="url(#g1_6)"/>
</g>
<rect x="80.90" y="522.50" width="52.40" height="39.00" fill="none" stroke="#121010" stroke-width="0.8" opacity="0.8"/>
<clipPath id="cE11"><rect x="137.40" y="522.10" width="53.60" height="39.80"/></clipPath>
<rect x="137.40" y="522.10" width="53.60" height="39.80" fill="#2c1c1b"/>
<g clip-path="url(#cE11)">
<path d="M137.4,556 C160,553 180,545 191,536 L191,561.9 L137.4,561.9 Z" fill="#201a19" opacity="1" filter="url(#g2_0)"/>
<ellipse cx="160" cy="540.6" rx="5" ry="7.8" transform="rotate(0 160 540.6)" fill="#e03636" opacity="1" filter="url(#g1_4)"/>
</g>
<rect x="137.80" y="522.50" width="52.80" height="39.00" fill="none" stroke="#121010" stroke-width="0.8" opacity="0.8"/>
<clipPath id="cE12"><rect x="194.40" y="522.10" width="53.50" height="39.80"/></clipPath>
<rect x="194.40" y="522.10" width="53.50" height="39.80" fill="#2c1c1b"/>
<g clip-path="url(#cE12)">
<path d="M194.4,561.9 C215,558 235,550 247.9,541 L247.9,561.9 Z" fill="#1f1b1a" opacity="1" filter="url(#g2_0)"/>
<ellipse cx="221.3" cy="540.6" rx="7" ry="5.5" transform="rotate(0 221.3 540.6)" fill="#d83636" opacity="1" filter="url(#g1_4)"/>
</g>
<rect x="194.80" y="522.50" width="52.70" height="39.00" fill="none" stroke="#121010" stroke-width="0.8" opacity="0.8"/>
<clipPath id="cE13"><rect x="23.80" y="566.20" width="53.00" height="40.10"/></clipPath>
<rect x="23.80" y="566.20" width="53.00" height="40.10" fill="#1e1c1a"/>
<g clip-path="url(#cE13)">
<path d="M23.8,590 C40,594 60,592 76.8,584 L76.8,606.3 L23.8,606.3 Z" fill="#3a2020" opacity="1" filter="url(#g1_5)"/>
<ellipse cx="51" cy="585.8" rx="9" ry="5" transform="rotate(-10 51 585.8)" fill="#e03838" opacity="1" filter="url(#g1_3)"/>
</g>
<rect x="24.20" y="566.60" width="52.20" height="39.30" fill="none" stroke="#121010" stroke-width="0.8" opacity="0.8"/>
<clipPath id="cE14"><rect x="80.50" y="566.20" width="53.20" height="40.10"/></clipPath>
<rect x="80.50" y="566.20" width="53.20" height="40.10" fill="#2a1c1c"/>
<g clip-path="url(#cE14)">
<ellipse cx="106.3" cy="587" rx="7.5" ry="6" transform="rotate(0 106.3 587)" fill="#e03838" opacity="1" filter="url(#g1_4)"/>
</g>
<rect x="80.90" y="566.60" width="52.40" height="39.30" fill="none" stroke="#121010" stroke-width="0.8" opacity="0.8"/>
<clipPath id="cE15"><rect x="137.40" y="566.20" width="53.60" height="40.10"/></clipPath>
<rect x="137.40" y="566.20" width="53.60" height="40.10" fill="#221a1a"/>
<g clip-path="url(#cE15)">
<ellipse cx="162.5" cy="585.8" rx="6" ry="3.8" transform="rotate(0 162.5 585.8)" fill="#d83535" opacity="1" filter="url(#g1_4)"/>
</g>
<rect x="137.80" y="566.60" width="52.80" height="39.30" fill="none" stroke="#121010" stroke-width="0.8" opacity="0.8"/>
<clipPath id="cE16"><rect x="194.40" y="566.20" width="53.50" height="40.10"/></clipPath>
<rect x="194.40" y="566.20" width="53.50" height="40.10" fill="#1e1c1a"/>
<g clip-path="url(#cE16)">
<ellipse cx="218" cy="585" rx="18" ry="12" transform="rotate(-30 218 585)" fill="#2e1c1c" opacity="1" filter="url(#g2_0)"/>
<ellipse cx="214.7" cy="589.3" rx="8" ry="5.5" transform="rotate(0 214.7 589.3)" fill="#e03838" opacity="1" filter="url(#g1_4)"/>
</g>
<rect x="194.80" y="566.60" width="52.70" height="39.30" fill="none" stroke="#121010" stroke-width="0.8" opacity="0.8"/>
</g>
<rect x="0" y="0" width="520" height="1.1" fill="#000"/><rect x="0" y="0" width="1" height="620" fill="#000"/><rect x="518.7" y="0" width="1.3" height="620" fill="#000"/><rect x="0" y="618.6" width="520" height="1.4" fill="#000"/>
</svg>
</body></html>
